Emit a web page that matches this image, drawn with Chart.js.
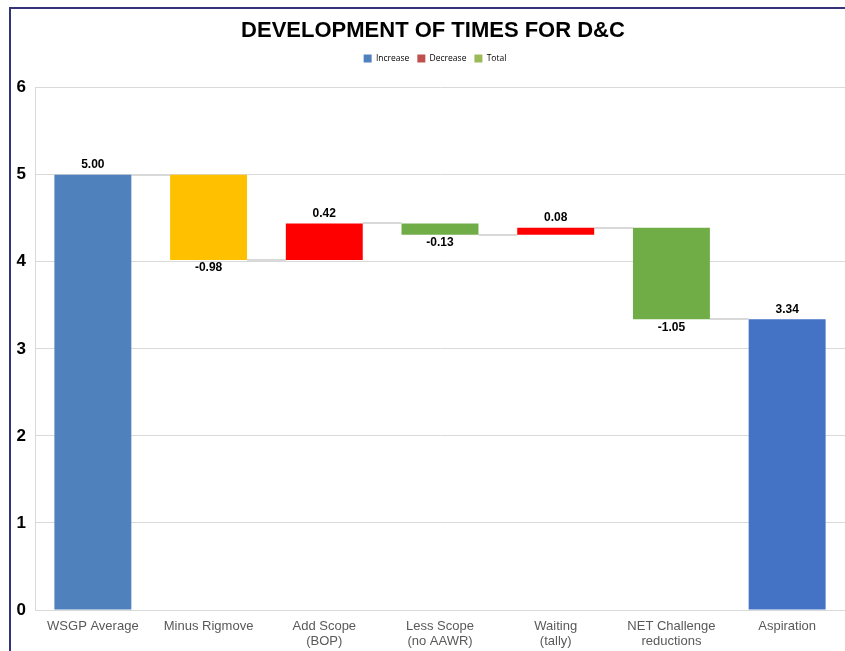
<!DOCTYPE html>
<html>
<head>
<meta charset="utf-8">
<script src="https://cdn.jsdelivr.net/npm/chart.js@4.4.1/dist/chart.umd.min.js"></script>
<style>
  html, body { margin: 0; padding: 0; background: #fff; }
  #wrap { position: relative; width: 845px; height: 651px; }
  #frame { position: absolute; left: 9px; top: 7px; right: -5px; bottom: -5px;
           border-top: 2px solid #34347a; border-left: 2px solid #34347a; pointer-events: none; }
</style>
</head>
<body>
<div id="wrap">
  <canvas id="grafica" width="845" height="651"></canvas>
  <div id="frame"></div>
</div>
<script>
// categories and step values of the waterfall
const etiquetas = ['WSGP Average', 'Minus Rigmove', ['Add Scope', '(BOP)'], ['Less Scope', '(no AAWR)'],
                   ['Waiting', '(tally)'], ['NET Challenge', 'reductions'], 'Aspiration'];
const cambios = [5.00, -0.98, 0.42, -0.13, 0.08, -1.05, 3.34];
const esTotal = [true, false, false, false, false, false, true];
const colores = ['#4F81BD', '#FFC000', '#FF0000', '#70AD47', '#FF0000', '#70AD47', '#4472C4'];
const yTicks = [0, 1, 2, 3, 4, 5, 6];

const leyenda = [
  { text: 'Increase', color: '#4F81BD' },
  { text: 'Decrease', color: '#C0504D' },
  { text: 'Total', color: '#9BBB59' }
];

// floating bars: [start, end]
let acumulado = 0;
const barras = cambios.map((v, i) => {
  if (esTotal[i]) { acumulado = v; return [0, v]; }
  const inicio = acumulado;
  acumulado = +(acumulado + v).toFixed(2);
  return [inicio, acumulado];
});

const conectores = {
  id: 'conectores',
  beforeDatasetsDraw(chart) {
    const ctx = chart.ctx;
    const meta = chart.getDatasetMeta(0);
    const y = chart.scales.y;
    ctx.save();
    ctx.strokeStyle = '#D9D9D9';
    ctx.lineWidth = 2;
    for (let i = 0; i < barras.length - 1; i++) {
      const a = meta.data[i], b = meta.data[i + 1];
      const py = Math.round(y.getPixelForValue(barras[i][1]));
      ctx.beginPath();
      ctx.moveTo(a.x + a.width / 2, py);
      ctx.lineTo(b.x - b.width / 2, py);
      ctx.stroke();
    }
    ctx.restore();
  }
};

const etiquetasValor = {
  id: 'etiquetasValor',
  afterDatasetsDraw(chart) {
    const ctx = chart.ctx;
    const meta = chart.getDatasetMeta(0);
    const y = chart.scales.y;
    ctx.save();
    ctx.font = 'bold 12px "Liberation Sans", Arial, sans-serif';
    ctx.fillStyle = '#000';
    ctx.textAlign = 'center';
    meta.data.forEach((bar, i) => {
      const v = cambios[i];
      const arriba = Math.max(barras[i][0], barras[i][1]);
      const abajo = Math.min(barras[i][0], barras[i][1]);
      if (v >= 0) {
        ctx.textBaseline = 'bottom';
        ctx.fillText(v.toFixed(2), bar.x, y.getPixelForValue(arriba) - 4);
      } else {
        ctx.textBaseline = 'top';
        ctx.fillText(v.toFixed(2), bar.x, y.getPixelForValue(abajo) + 2);
      }
    });
    ctx.restore();
  }
};

// the original frame starts a bit to the right, so title and legend sit right of canvas centre
const corrimiento = {
  id: 'corrimiento',
  afterLayout(chart) {
    chart.titleBlock.left += 21;
    chart.legend.left += 25;
  }
};

new Chart(document.getElementById('grafica').getContext('2d'), {
  type: 'bar',
  data: {
    labels: etiquetas,
    datasets: [{
      label: 'Waterfall',
      data: barras,
      backgroundColor: colores,
      borderWidth: 0,
      borderSkipped: false,
      categoryPercentage: 1,
      barPercentage: 0.665
    }]
  },
  plugins: [conectores, etiquetasValor, corrimiento],
  options: {
    responsive: false,
    animation: false,
    layout: { padding: 0 },
    plugins: {
      title: {
        display: true,
        text: 'DEVELOPMENT OF TIMES FOR D&C',
        color: '#000',
        font: { family: '"Liberation Sans", Arial, sans-serif', size: 22, weight: 'bold', lineHeight: 1.1 },
        padding: { top: 19, bottom: 3 }
      },
      subtitle: {
        display: true,
        text: '',
        position: 'top',
        weight: 500,
        font: { size: 1, lineHeight: 1 },
        padding: { top: 0, bottom: 14 }
      },
      legend: {
        display: true,
        labels: {
          boxWidth: 8,
          boxHeight: 8,
          padding: 8,
          color: '#595959',
          font: { family: '"Open Sans", sans-serif', size: 8.5 },
          generateLabels: () => leyenda.map(l => ({
            text: l.text, fillStyle: l.color, strokeStyle: l.color, lineWidth: 0, hidden: false
          }))
        },
        onClick: null
      },
      tooltip: { enabled: false }
    },
    scales: {
      x: {
        grid: { display: false, drawTicks: false },
        border: { color: '#D9D9D9' },
        afterFit: s => { s.height = 41; },
        ticks: {
          color: '#595959',
          padding: 9,
          maxRotation: 0,
          autoSkip: false,
          font: { family: '"Liberation Sans", Arial, sans-serif', size: 13, lineHeight: 1.15 }
        }
      },
      y: {
        min: 0,
        max: 6,
        afterBuildTicks: s => { s.ticks = yTicks.map(v => ({ value: v })); },
        afterFit: s => { s.width = 35; },
        grid: { color: '#D9D9D9', drawTicks: false },
        border: { color: '#D9D9D9' },
        ticks: {
          color: '#000',
          padding: 9,
          font: { family: '"Liberation Sans", Arial, sans-serif', size: 17, weight: 'bold' }
        }
      }
    }
  }
});
</script>
</body>
</html>
